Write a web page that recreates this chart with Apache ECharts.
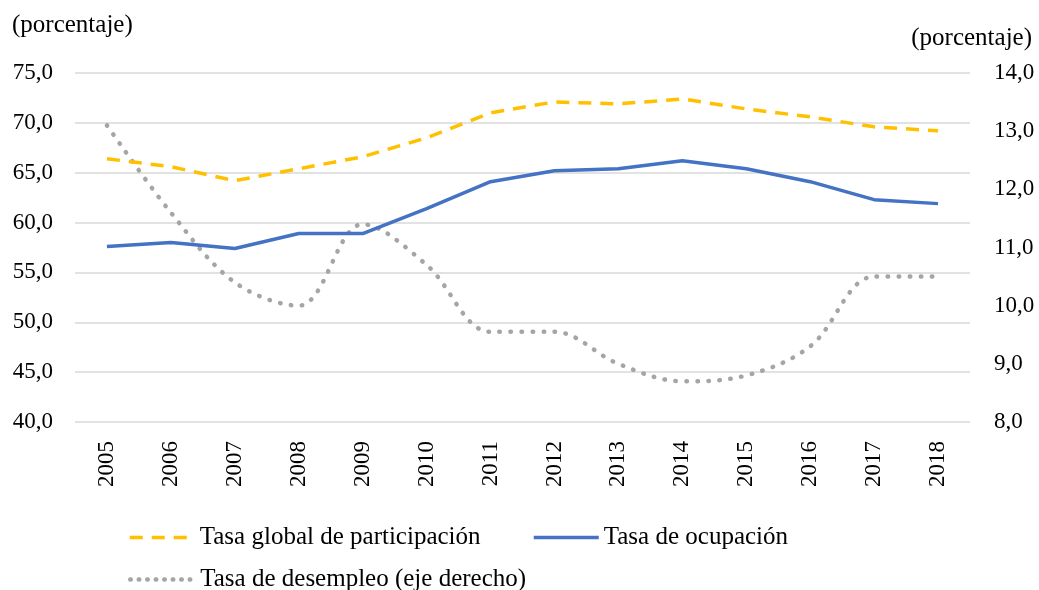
<!DOCTYPE html>
<html>
<head>
<meta charset="utf-8">
<script src="https://cdn.jsdelivr.net/npm/echarts@6/dist/echarts.min.js"></script>
<style>
  html, body { margin: 0; padding: 0; background: #fff; }
  #chart { width: 1039px; height: 590px; }
</style>
</head>
<body>
<div id="chart"></div>
<script>
// datos
const years = ['2005', '2006', '2007', '2008', '2009', '2010', '2011', '2012', '2013', '2014', '2015', '2016', '2017', '2018']
const participacion = [66.4, 65.6, 64.2, 65.4, 66.6, 68.5, 71.0, 72.1, 71.9, 72.4, 71.4, 70.6, 69.6, 69.2]
const ocupacion = [57.6, 58.0, 57.4, 58.9, 58.9, 61.4, 64.1, 65.2, 65.4, 66.2, 65.4, 64.1, 62.3, 61.9]
const desempleo = [13.1, 11.6, 10.4, 10.0, 11.4, 10.7, 9.55, 9.55, 9.0, 8.7, 8.8, 9.3, 10.5, 10.5]
const leftTicks = { min: 40, max: 75, interval: 5 }
const rightTicks = { min: 8, max: 14, interval: 1 }

const names = ['Tasa global de participación', 'Tasa de ocupación', 'Tasa de desempleo (eje derecho)']
const font = '"Liberation Serif", "Times New Roman", serif'
const txt = '#000'
const colors = ['#FFC000', '#4472C4', '#A5A5A5']
const yellowDash = [13, 9]
const greyDots = [0.5, 10.5]

let chart = echarts.init(document.getElementById('chart'))

function fmt(v) {
  return v.toFixed(1).replace('.', ',')
}

function legendFor(i, left, top, lineStyle) {
  return {
    data: [names[i]],
    left: left,
    top: top,
    padding: 0,
    itemWidth: 65,
    itemHeight: 14,
    itemGap: 5,
    itemStyle: { opacity: 0 },
    lineStyle: lineStyle,
    textStyle: { fontFamily: font, fontSize: 25, color: txt },
  }
}

let option = {
  animation: false,
  title: [
    { text: '(porcentaje)', left: 7, top: 8, textStyle: { fontFamily: font, fontSize: 25, fontWeight: 'normal', color: txt } },
    { text: '(porcentaje)', right: 2, top: 21, textStyle: { fontFamily: font, fontSize: 25, fontWeight: 'normal', color: txt } },
  ],
  grid: {
    left: 75,
    right: 69,
    top: 73,
    bottom: 168,
  },
  legend: [
    legendFor(0, 128, 525, { color: colors[0], width: 3.5, type: yellowDash }),
    legendFor(1, 532, 525, { color: colors[1], width: 3.5, type: 'solid' }),
    legendFor(2, 128, 567, { color: colors[2], width: 4.5, type: [0.5, 8], cap: 'round' }),
  ],
  xAxis: {
    type: 'category',
    data: years,
    boundaryGap: true,
    axisLine: { show: false },
    axisTick: { show: false },
    axisLabel: {
      rotate: 90,
      margin: 19,
      fontFamily: font,
      fontSize: 23,
      color: txt,
    },
  },
  yAxis: [
    {
      type: 'value',
      min: leftTicks.min,
      max: leftTicks.max,
      interval: leftTicks.interval,
      axisLine: { show: false },
      axisTick: { show: false },
      splitLine: { lineStyle: { color: '#D9D9D9', width: 1.5 } },
      axisLabel: { margin: 22, fontFamily: font, fontSize: 23, color: txt, formatter: fmt },
    },
    {
      type: 'value',
      position: 'right',
      min: rightTicks.min,
      max: rightTicks.max,
      interval: rightTicks.interval,
      axisLine: { show: false },
      axisTick: { show: false },
      splitLine: { show: false },
      axisLabel: { margin: 24, fontFamily: font, fontSize: 23, color: txt, formatter: fmt },
    },
  ],
  series: [
    {
      name: names[0],
      type: 'line',
      yAxisIndex: 0,
      symbol: 'none',
      data: participacion,
      itemStyle: { color: colors[0] },
      lineStyle: { color: colors[0], width: 3.5, type: yellowDash },
      z: 3,
    },
    {
      name: names[1],
      type: 'line',
      yAxisIndex: 0,
      symbol: 'none',
      data: ocupacion,
      itemStyle: { color: colors[1] },
      lineStyle: { color: colors[1], width: 3.5 },
      z: 3,
    },
    {
      name: names[2],
      type: 'line',
      yAxisIndex: 1,
      symbol: 'none',
      smooth: 0.35,
      data: desempleo,
      itemStyle: { color: colors[2] },
      lineStyle: { color: colors[2], width: 4.5, type: greyDots, cap: 'round' },
      z: 2,
    },
  ],
}

chart.setOption(option)
</script>
</body>
</html>
